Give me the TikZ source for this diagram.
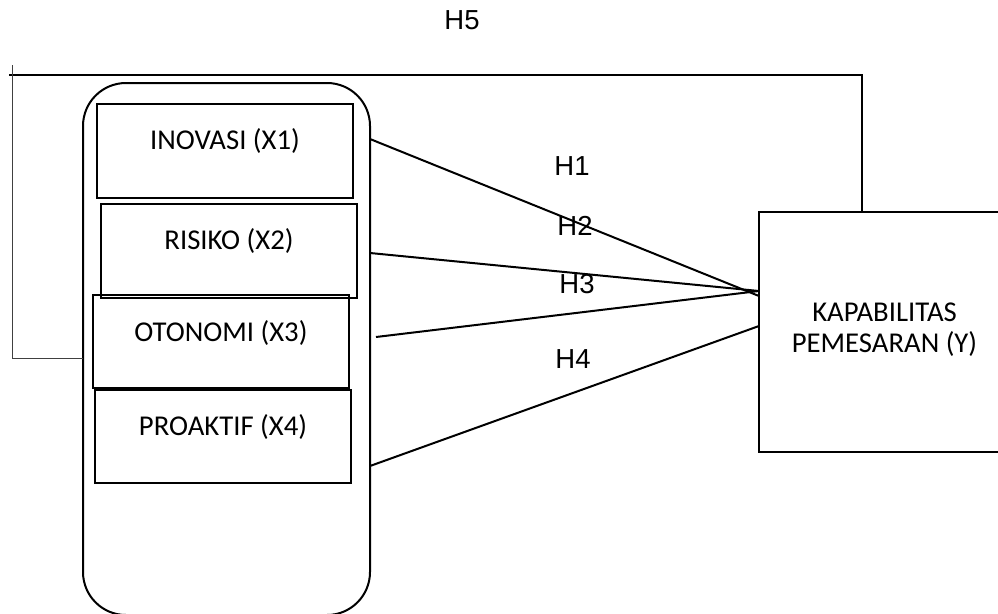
\documentclass[tikz,border=0pt]{standalone}
\usepackage{fontspec}
\setmainfont{Carlito}
\newfontfamily\arialf{Liberation Sans}
\begin{document}
\begin{tikzpicture}[x=1pt,y=-1pt,
  blk/.style={draw, line width=2pt, rectangle, inner sep=0pt, outer sep=0pt},
  boxtext/.style={font=\fontsize{28.7}{34}\selectfont, anchor=base, inner sep=0pt},
  hlab/.style={font=\arialf\fontsize{27.5}{32}\selectfont, anchor=base, inner sep=0pt},
  conn/.style={line width=2pt},
  fb/.style={line width=1pt, draw=black!75}]
\useasboundingbox (0,0) rectangle (998,613);
\clip (0,0) rectangle (998,613);
% container
\node[blk, rounded corners=43pt, minimum width=287pt, minimum height=532pt] (grp) at (226.5,349) {};
% item boxes
\node[blk, minimum width=256pt, minimum height=94pt] (x1) at (225,151) {};
\node[blk, minimum width=256pt, minimum height=94pt] (x2) at (229,251) {};
\node[blk, minimum width=256pt, minimum height=93pt] (x3) at (221,341.5) {};
\node[blk, minimum width=256pt, minimum height=93pt] (x4) at (223,436.5) {};
\node[boxtext] (t1) at (225,149) {INOVASI (X1)};
\node[boxtext] (t2) at (229,249) {RISIKO (X2)};
\node[boxtext] (t3) at (221,341) {OTONOMI (X3)};
\node[boxtext] (t4) at (223,435) {PROAKTIF (X4)};
% dependent
\node[blk, minimum width=251pt, minimum height=240pt] (Y) at (884.5,332) {};
\node[boxtext] (ty1) at (884.5,321.5) {KAPABILITAS};
\node[boxtext] (ty2) at (884.5,352.5) {PEMESARAN (Y)};
% connectors
\draw[conn] ([yshift=210pt]grp.east) -- ([yshift=36pt]Y.west);
\draw[conn] ([yshift=96pt]grp.east) -- ([yshift=41pt]Y.west);
\draw[conn] ([xshift=6pt,yshift=12pt]grp.east) -- ([yshift=41pt]Y.west);
\draw[conn] ([yshift=-117pt]grp.east) -- ([yshift=6pt]Y.west);
% feedback H5
\coordinate (fbstart) at (9,75);
\coordinate (fbl) at (12,65);
\draw[conn] (fbstart) -| ([xshift=103pt]Y.north west);
\draw[fb] (fbl) |- ([yshift=-9pt]grp.west);
% labels
\node[hlab] (h1) at (572,175) {H1};
\node[hlab] (h2) at (575,235) {H2};
\node[hlab] (h3) at (577,293) {H3};
\node[hlab] (h4) at (573,368) {H4};
\node[hlab] (h5) at (462,29) {H5};
\end{tikzpicture}
\end{document}
